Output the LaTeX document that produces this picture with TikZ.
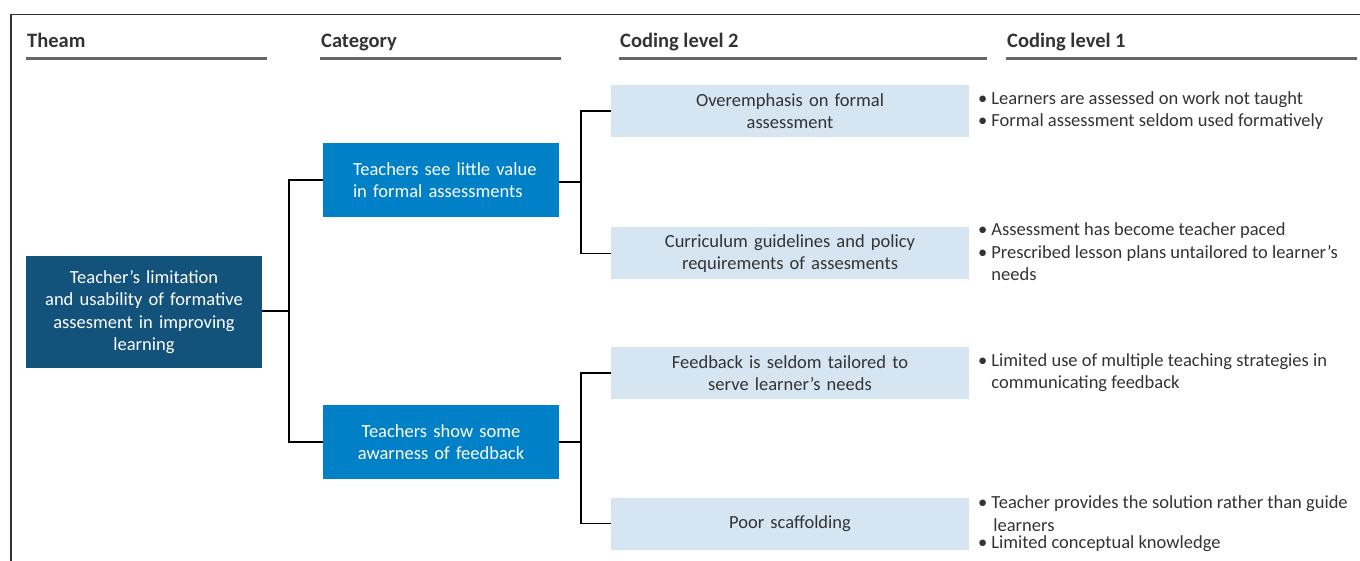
\documentclass[tikz,border=0pt]{standalone}
\usepackage{fontspec}
\setmainfont{Carlito}
\usetikzlibrary{positioning}

\definecolor{themeblue}{HTML}{13527A}
\definecolor{catblue}{HTML}{0080C6}
\definecolor{codeblue}{HTML}{D6E5F2}
\definecolor{inkgray}{HTML}{333333}
\definecolor{rulegray}{HTML}{666666}

\newcommand{\bodyfont}{\fontsize{18.5}{22.5}\selectfont}

\tikzset{
  heading/.style={anchor=base west, inner sep=0, font=\fontsize{20.5}{24}\selectfont\bfseries, text=inkgray},
  headrule/.style={rulegray, line width=2.2pt},
  themebox/.style={fill=themeblue, text=white, minimum width=236pt, minimum height=112pt,
    text width=220pt, align=center, inner sep=0, font=\bodyfont},
  catbox/.style={fill=catblue, text=white, minimum width=236pt, minimum height=74pt,
    text width=176pt, align=center, inner sep=0, font=\bodyfont},
  codebox/.style={fill=codeblue, text=inkgray, minimum width=358pt, minimum height=52pt,
    text width=340pt, align=center, inner sep=0, font=\bodyfont},
  bullets/.style={anchor=west, inner sep=0, text=inkgray, font=\bodyfont},
  link/.style={black, line width=1.3pt}
}

\begin{document}
\begin{tikzpicture}[x=1pt, y=-1pt]
  \useasboundingbox (0,0) rectangle (1360,561);

  % frame
  \draw[inkgray, line width=1.5pt] (11,561) -- (11,14.5) -- (1360,14.5);

  % headings
  \node[heading] (h1) at (27,48) {Theam};
  \node[heading] (h2) at (321,48) {Category};
  \node[heading] (h3) at (620,48) {Coding level 2};
  \node[heading] (h4) at (1007,48) {Coding level 1};
  \draw[headrule] (26,58.5) -- (267,58.5);
  \draw[headrule] (320,58.5) -- (561,58.5);
  \draw[headrule] (619,58.5) -- (987,58.5);
  \draw[headrule] (1006,58.5) -- (1357,58.5);

  % theme
  \node[themebox] (theme) at (144,312) {Teacher’s limitation\\ and usability of formative\\ assesment in improving\\ learning};

  % categories
  \node[catbox, align=left] (cat1) at (441,180) {\mbox{Teachers see little value}\\ in formal assessments};
  \node[catbox] (cat2) at (441,442) {Teachers show some\\ awarness of feedback};

  % coding level 2
  \node[codebox] (over) at (790,111) {Overemphasis on formal\\ assessment};
  \node[codebox] (curr) at (790,253.5) {Curriculum guidelines and policy\\ requirements of assesments};
  \node[codebox] (feed) at (790,373) {Feedback is seldom tailored to\\ serve learner’s needs};
  \node[codebox] (poor) at (790,523.5) {Poor scaffolding};

  % coding level 1
  \node[bullets] (overlist) at (978,111) {\begin{tabular}{@{}l@{\hspace{4pt}}l@{}}
    •&Learners are assessed on work not taught\\
    •&Formal assessment seldom used formatively
  \end{tabular}};
  \node[bullets] (currlist) at (978,254) {\begin{tabular}{@{}l@{\hspace{4pt}}l@{}}
    •&Assessment has become teacher paced\\
    •&Prescribed lesson plans untailored to learner’s\\
     &needs
  \end{tabular}};
  \node[bullets] (feedlist) at (978,373) {\begin{tabular}{@{}l@{\hspace{4pt}}l@{}}
    •&Limited use of multiple teaching strategies in\\
     &communicating feedback
  \end{tabular}};
  \node[bullets] (poorlist) at (978,524) {\begin{tabular}{@{}l@{\hspace{4pt}}l@{}}
    •&Teacher provides the solution rather than guide\\
     &\hspace{2pt}learners\\[-5pt]
    •&Limited conceptual knowledge
  \end{tabular}};

  % connectors
  \coordinate (j1) at (289,311);
  \coordinate (j2) at (581,182);
  \coordinate (j3) at (581,442);
  \draw[link] (theme.east |- j1) -- (j1);
  \draw[link] (cat1.west) -| (j1) |- (cat2.west);
  \draw[link] (cat1.east |- j2) -- (j2);
  \draw[link] (over.west) -| (j2) |- (curr.west);
  \draw[link] (cat2.east) -- (j3);
  \draw[link] (feed.west) -| (j3) |- (poor.west);
\end{tikzpicture}
\end{document}
